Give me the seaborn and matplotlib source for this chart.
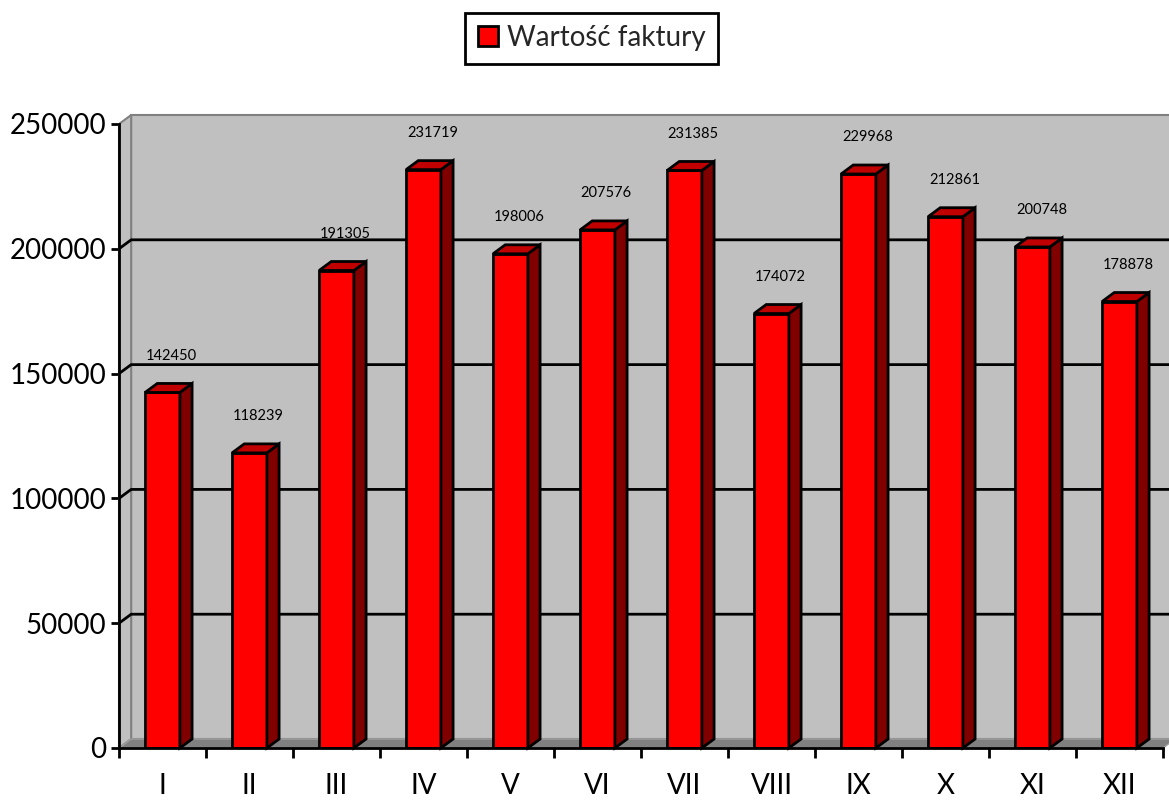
import numpy as np
import matplotlib
matplotlib.use("Agg")
import matplotlib.pyplot as plt
import seaborn as sns
from matplotlib.patches import Polygon, Patch

# dane z wykresu
months = ['I', 'II', 'III', 'IV', 'V', 'VI', 'VII', 'VIII', 'IX', 'X', 'XI', 'XII']
values = [142450, 118239, 191305, 231719, 198006, 207576,
          231385, 174072, 229968, 212861, 200748, 178878]
y_ticks = [0, 50000, 100000, 150000, 200000, 250000]
series_name = 'Wartość faktury'

sns.set_theme(style='white')
plt.rcParams['font.family'] = ['Lato', 'DejaVu Sans']

fig = plt.figure(figsize=(11.69, 8), dpi=100)
ax = fig.add_axes([119 / 1169, 52 / 800, 1044 / 1169, 624 / 800])

# glebokosc efektu 3D (w jednostkach danych)
dx = 0.14
dy = 3600
ymax = y_ticks[-1]
x0, x1 = -0.5, len(months) - 0.5

# sciana tylna, boczna i podloga
ax.add_patch(Polygon([(x0 + dx, dy), (x1 + dx, dy), (x1 + dx, ymax + dy), (x0 + dx, ymax + dy)],
                     closed=True, fc='#C0C0C0', ec='#808080', lw=1.5, zorder=0.5, clip_on=False))
ax.add_patch(Polygon([(x0, 0), (x0, ymax), (x0 + dx, ymax + dy), (x0 + dx, dy)],
                     closed=True, fc='#C0C0C0', ec='#808080', lw=1.5, zorder=0.6, clip_on=False))
ax.add_patch(Polygon([(x0, 0), (x1, 0), (x1 + dx, dy), (x0 + dx, dy)],
                     closed=True, fc='#808080', ec='#A0A0A0', lw=1, zorder=0.6, clip_on=False))

# linie siatki
for t in y_ticks[1:-1]:
    ax.plot([x0, x0 + dx, x1 + dx], [t, t + dy, t + dy], color='black', lw=2,
            zorder=0.8, clip_on=False, solid_capstyle='butt')

# slupki
sns.barplot(x=months, y=values, color='#FF0000', saturation=1, width=0.4,
            edgecolor='black', linewidth=2, ax=ax, zorder=2)

for bar, v in zip(ax.containers[0], values):
    l = bar.get_x()
    w = bar.get_width()
    r = l + w
    h = bar.get_height()
    ax.add_patch(Polygon([(r, 0), (r + dx, dy), (r + dx, h + dy), (r, h)], closed=True,
                         fc='#800000', ec='black', lw=2, zorder=2, clip_on=False))
    ax.add_patch(Polygon([(l, h), (r, h), (r + dx, h + dy), (l + dx, h + dy)], closed=True,
                         fc='#C00000', ec='black', lw=2, zorder=2, clip_on=False))
    ax.annotate(str(v), (l + w / 2 + dx / 2, h + dy), xytext=(2, 20),
                textcoords='offset points', ha='center', va='center',
                fontsize=10.5, color='black')

ax.set_xlim(x0, x1)
ax.set_ylim(0, ymax)
ax.set_xlabel('')
ax.set_ylabel('')
ax.set_yticks(y_ticks)
ax.set_yticklabels([str(t) for t in y_ticks])
ax.set_xticks(np.arange(len(months) + 1) - 0.5, minor=True)

ax.tick_params(axis='y', direction='out', length=6, width=2, color='black',
               labelsize=20, pad=3, left=True, labelcolor='black')
ax.tick_params(axis='x', which='minor', direction='out', length=7, width=2,
               color='black', bottom=True)
ax.tick_params(axis='x', which='major', length=0, labelsize=20, pad=18,
               labelcolor='black')

for s in ['top', 'right']:
    ax.spines[s].set_visible(False)
for s in ['left', 'bottom']:
    ax.spines[s].set_color('black')
    ax.spines[s].set_linewidth(2)
ax.patch.set_visible(False)

leg = fig.legend(handles=[Patch(fc='#FF0000', ec='black', lw=2)], labels=[series_name],
                 loc='center', bbox_to_anchor=(0.506, 0.9525), frameon=True, fancybox=False,
                 edgecolor='black', framealpha=1, fontsize=20, handlelength=0.75,
                 handleheight=0.75, handletextpad=0.3, borderpad=0.45, borderaxespad=0)
leg.get_frame().set_linewidth(2)

fig.savefig('out.png', dpi=100)
